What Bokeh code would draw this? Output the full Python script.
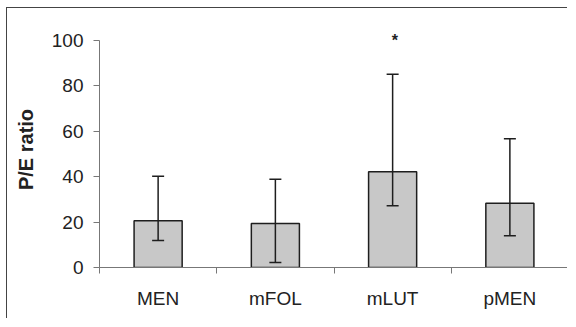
from bokeh.plotting import figure
from bokeh.models import ColumnDataSource, FixedTicker, Whisker, TeeHead, Range1d
from bokeh.embed import file_html
from bokeh.resources import INLINE
from bokeh.core.properties import value

categories = ["MEN", "mFOL", "mLUT", "pMEN"]
means = [20.6, 19.4, 42.2, 28.3]
err_low = [11.9, 2.2, 27.2, 14.0]
err_high = [40.2, 38.9, 85.2, 56.7]
y_ticks = [0, 20, 40, 60, 80, 100]
star_category = "mLUT"
star_y = 100

xs = [i + 0.5 for i in range(len(categories))]
src = ColumnDataSource(dict(x=xs, top=means, lo=err_low, hi=err_high, cat=categories))

p = figure(width=561, height=311, output_backend="svg", toolbar_location=None,
           x_range=Range1d(0, len(categories)), y_range=Range1d(0, 104),
           min_border_left=92, min_border_right=0, min_border_top=23, min_border_bottom=52)
p.styles = {"border-left": "1px solid #444", "border-top": "1px solid #444",
            "margin-left": "6px", "margin-top": "7px"}
p.xgrid.visible = False
p.ygrid.visible = False
p.outline_line_color = None
p.background_fill_color = "white"
p.border_fill_color = "white"

p.vbar(x="x", top="top", bottom=0, width=0.41, source=src,
       fill_color="#c8c8c8", line_color="#1e1e1e", line_width=1.5)

w = Whisker(base="x", lower="lo", upper="hi", source=src, line_color="#1e1e1e", line_width=1.5,
            level="overlay",
            upper_head=TeeHead(size=12, line_color="#1e1e1e", line_width=1.5),
            lower_head=TeeHead(size=12, line_color="#1e1e1e", line_width=1.5))
p.add_layout(w)

sx = xs[categories.index(star_category)] + 0.02
p.text(x=[sx], y=[star_y], text=["*"], text_align="center", text_baseline="middle",
       text_font=value("Liberation Sans"), text_font_size="16px", text_color="#222222",
       text_font_style="bold")

# y axis
ya = p.yaxis[0]
ya.ticker = FixedTicker(ticks=y_ticks)
ya.bounds = (0, 100)
ya.minor_tick_line_color = None
ya.major_tick_out = 6
ya.major_tick_in = 0
ya.axis_line_color = "#777777"
ya.major_tick_line_color = "#777777"
ya.major_label_text_font = "Liberation Sans"
ya.major_label_text_font_size = "19px"
ya.major_label_text_color = "#222222"
ya.major_label_standoff = 10
ya.axis_label = "P/E ratio"
ya.axis_label_text_font = "Liberation Sans"
ya.axis_label_text_font_size = "20px"
ya.axis_label_text_font_style = "bold"
ya.axis_label_text_color = "#222222"
ya.axis_label_standoff = 12

# x axis
xa = p.xaxis[0]
xa.ticker = FixedTicker(ticks=xs, minor_ticks=list(range(len(categories) + 1)))
xa.major_label_overrides = {x: c for x, c in zip(xs, categories)}
xa.major_tick_out = 0
xa.major_tick_in = 0
xa.minor_tick_out = 6
xa.minor_tick_in = 0
xa.minor_tick_line_color = "#777777"
xa.axis_line_color = "#777777"
xa.major_label_text_font = "Liberation Sans"
xa.major_label_text_font_size = "19px"
xa.major_label_text_color = "#222222"
xa.major_label_standoff = 14

open("out.html", "w").write(file_html(p, INLINE))
